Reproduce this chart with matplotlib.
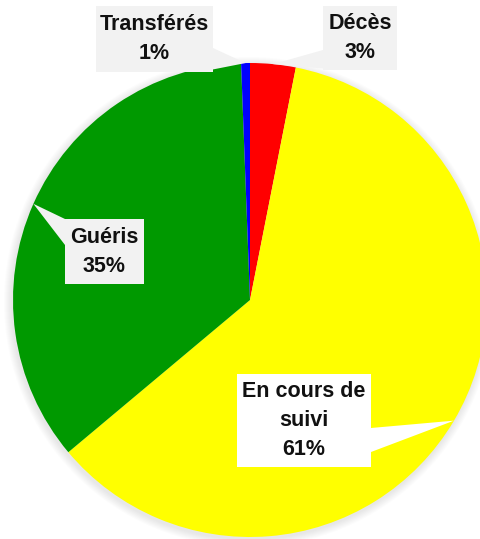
import matplotlib.pyplot as plt
import matplotlib.patches as mpatches
import numpy as np

plt.rcParams["font.family"] = ["Liberation Sans", "DejaVu Sans"]

labels = ["Décès", "En cours de\nsuivi", "Guéris", "Transférés"]
values = [3.1, 60.8, 35.5, 0.6]
pct_text = ["3%", "61%", "35%", "1%"]
colors = ["#FF0000", "#FFFF00", "#009900", "#0000FF"]

W, H = 481, 539
cx, cy, R = 250, H - 300, 237

# label boxes (x0, y0 top, x1, y1 bottom) in pixel coords from the top
boxes = [(323, 6, 397, 70), (237, 374, 371, 467), (65, 219, 144, 284), (96, 6, 213, 72)]
box_fill = ["#F2F2F2", "#FFFFFF", "#F2F2F2", "#F2F2F2"]
# pointer base on box edge: two points (pixel coords from top)
bases = [((323, 50), (340, 70)), ((371, 428), (371, 452)), ((65, 219), (65, 245)), ((213, 48), (200, 72))]

fig = plt.figure(figsize=(W / 100, H / 100), dpi=100)
ax = fig.add_axes([0, 0, 1, 1])

# soft shadow
for i in range(8):
    ax.add_patch(mpatches.Circle((cx - 1, cy - 2), R + 8 - i, color="#888888", alpha=0.025, lw=0))

wedges, _ = ax.pie(values, colors=colors, startangle=90, counterclock=False,
                   center=(cx, cy), radius=R, frame=True,
                   wedgeprops=dict(linewidth=0))
ax.set_xlim(0, W)
ax.set_ylim(0, H)
ax.set_aspect("equal")
ax.axis("off")

for w, lab, pct, (x0, y0, x1, y1), fc, base in zip(wedges, labels, pct_text, boxes, box_fill, bases):
    mid = np.deg2rad((w.theta1 + w.theta2) / 2)
    tip = (cx + R * np.cos(mid), cy + R * np.sin(mid))
    pts = [(base[0][0], H - base[0][1]), tip, (base[1][0], H - base[1][1])]
    ax.add_patch(mpatches.Polygon(pts, closed=True, fc=fc, ec="none", zorder=3))
    ax.add_patch(mpatches.Rectangle((x0, H - y1), x1 - x0, y1 - y0, fc=fc, ec="none", zorder=3))
    ax.text((x0 + x1) / 2, H - (y0 + y1) / 2, lab + "\n" + pct, ha="center", va="center",
            fontsize=15.5, fontweight="bold", color="#111111", linespacing=1.5, zorder=4)

fig.savefig("out.png", dpi=100)
